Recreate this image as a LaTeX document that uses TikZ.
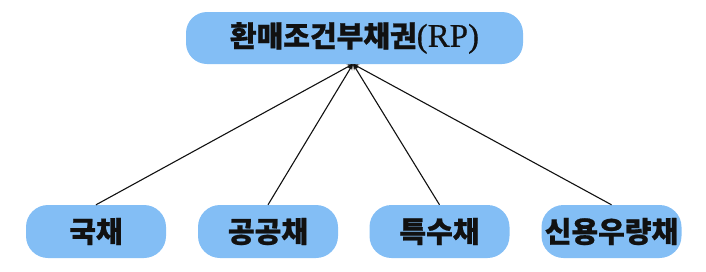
\documentclass[tikz,border=0pt]{standalone}
\usepackage{fontspec}
\usepackage{tikz}
\usetikzlibrary{arrows.meta, positioning}
\newfontfamily\krfont{Noto Sans CJK KR}[BoldFeatures={FakeBold=0.8}]
\newfontfamily\rpfont{Liberation Serif}[FakeBold=0.6]
\definecolor{rpBlue}{RGB}{131,190,245}
\definecolor{rpInk}{RGB}{17,17,17}

\begin{document}
\begin{tikzpicture}[x=1pt, y=-1pt, >={Stealth[length=6pt,width=5pt]},
    topbox/.style={fill=rpBlue, draw=none, rounded corners=21pt,
      minimum width=337pt, minimum height=52pt, inner sep=0pt,
      font=\krfont\bfseries\fontsize{29}{32}\selectfont, text=rpInk},
    bondbox/.style={fill=rpBlue, draw=none, rounded corners=22pt,
      minimum width=140pt, minimum height=53pt, inner sep=0pt,
      font=\krfont\bfseries\fontsize{29}{32}\selectfont, text=rpInk},
    link/.style={->, line width=1.1pt, rpInk}]
        \useasboundingbox (0,0) rectangle (706,271);
        % top node
        \node[topbox] (rp) at (354.5,38)
          {환매조건부채권{\rpfont\mdseries\fontsize{33}{36}\selectfont(RP)}};
        \coordinate (hub) at (353,64);
        % bond types
        \node[bondbox] (gov) at (96,231.5) {국채};
        \node[bondbox] (pub) at (268,231.5) {공공채};
        \node[bondbox] (spec) at (439.5,231.5) {특수채};
        \node[bondbox] (corp) at (611.5,231.5) {신용우량채};
        % connectors
        \foreach \b in {gov,pub,spec,corp}
          \draw[link] (\b.north) -- (hub);
      \end{tikzpicture}
\end{document}
